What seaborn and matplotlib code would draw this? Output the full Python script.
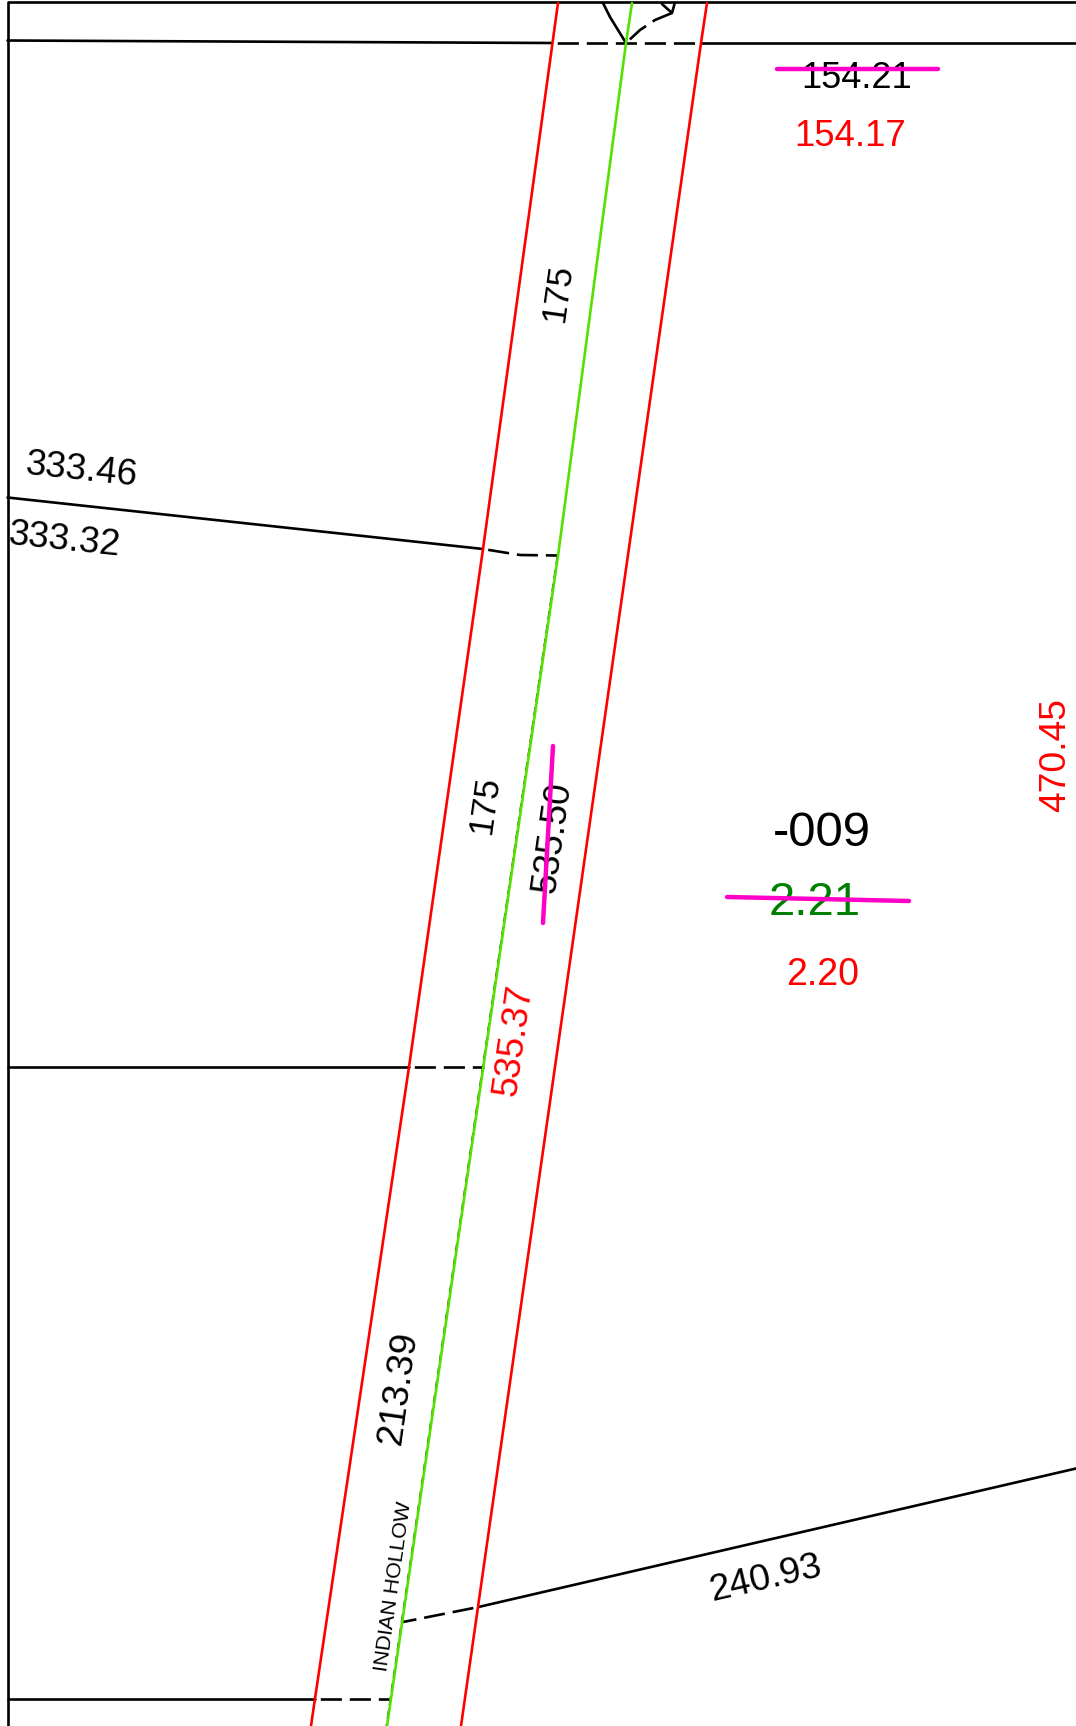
import matplotlib
matplotlib.use("Agg")
import matplotlib.pyplot as plt
import seaborn as sns

sns.set_theme(style="white")
plt.rcParams['font.family'] = ['Liberation Sans', 'DejaVu Sans']

W, H = 1076, 1726

# Solid black lot lines (x lists, y lists), in drawing units
frame_x = [1076, 7.5, 7.5]
frame_y = [2, 2, 1726]
lot_top_left_x = [7.5, 552]
lot_top_left_y = [40.5, 43]
lot_top_right_x = [701, 1076]
lot_top_right_y = [43, 43]
lot_mid_x = [7.5, 483]
lot_mid_y = [497.5, 549]
lot_lower_x = [7.5, 409]
lot_lower_y = [1067, 1067]
lot_bottom_x = [7.5, 315]
lot_bottom_y = [1698.5, 1698.5]
lot_right_x = [478.5, 1076]
lot_right_y = [1607, 1468.5]
curb_x = [603, 610, 618, 626]
curb_y = [3, 17, 30, 43]
tick_x = [662, 672, 674.5]
tick_y = [4, 13, 4]

# Dashed black ties, running from the right-of-way line to the centre line
dash_top_x = [552, 701]
dash_top_y = [43, 43]
dash_mid_x = [483, 520, 557]
dash_mid_y = [549, 555, 555.5]
dash_lower_x = [409, 484]
dash_lower_y = [1067, 1067]
dash_bottom_x = [315, 389]
dash_bottom_y = [1698.5, 1698.5]
dash_right_x = [478.5, 403]
dash_right_y = [1607, 1622]
dash_arc_x = [626, 640, 655, 672]
dash_arc_y = [43, 30, 20, 13]

# Coloured lines
red_left_x = [558, 483, 409, 315, 311]
red_left_y = [3, 549, 1067, 1698.5, 1726]
red_right_x = [707, 701, 461]
red_right_y = [3, 43, 1726]
green_x = [632, 626, 558, 387]
green_y = [3, 43, 556, 1726]
under_x = [557.2, 386.2]
under_y = [556, 1726]

# Strike-outs
strike_a_x = [777, 938]
strike_a_y = [69, 69]
strike_b_x = [553, 543]
strike_b_y = [746, 923]
strike_c_x = [727, 909]
strike_c_y = [897, 901]

# Labels
label_text = ["154.21", "154.17", "175", "333.46", "333.32", "175", "535.50", "535.37",
              "-009", "2.21", "2.20", "470.45", "213.39", "240.93", "INDIAN HOLLOW"]
label_x = [857, 850, 558, 81, 64, 485, 553, 514, 822, 815, 823, 1056, 399, 766, 393]
label_y = [78, 136, 293, 470, 540, 805, 837, 1040, 833, 903, 975, 755, 1388, 1579, 1586]
label_size = [26, 26.3, 25, 26.5, 26.5, 25, 26.3, 26.5, 35.4, 34, 27, 26.8, 26.8, 26.8, 15.4]
label_rot = [0, 0, 82, -6, -6, 82, 82, 82, 0, 0, 0, 90, 82, 13, 82]
label_col = ["black", "#ff0000", "black", "black", "black", "black", "black", "#ff0000",
             "black", "#008000", "#ff0000", "#ff0000", "black", "black", "black"]

fig = plt.figure(figsize=(W / 100, H / 100), dpi=100, facecolor="white")
ax = fig.add_axes([0, 0, 1, 1])


def line(x, y, color="black", lw=1.9, ls="-", z=2):
    sns.lineplot(x=x, y=y, sort=False, estimator=None, color=color, linewidth=lw,
                 linestyle=ls, ax=ax, zorder=z, legend=False)


for x, y in [(frame_x, frame_y), (lot_top_left_x, lot_top_left_y), (lot_top_right_x, lot_top_right_y),
             (lot_mid_x, lot_mid_y), (lot_lower_x, lot_lower_y), (lot_bottom_x, lot_bottom_y),
             (lot_right_x, lot_right_y), (curb_x, curb_y), (tick_x, tick_y)]:
    line(x, y)

dash = (9, (8, 3))
for x, y in [(dash_top_x, dash_top_y), (dash_mid_x, dash_mid_y), (dash_lower_x, dash_lower_y),
             (dash_bottom_x, dash_bottom_y), (dash_right_x, dash_right_y), (dash_arc_x, dash_arc_y)]:
    line(x, y, ls=dash)

line(under_x, under_y, color="#222222", lw=1.0, ls=(0, (6, 4)), z=2.5)
line(red_left_x, red_left_y, color="#ff0000", z=3)
line(red_right_x, red_right_y, color="#ff0000", z=3)
line(green_x, green_y, color="#55e000", z=3)

for t, x, y, s, r, c in zip(label_text, label_x, label_y, label_size, label_rot, label_col):
    ax.text(x, y, t, fontsize=s, rotation=r, color=c, ha="center", va="center",
            rotation_mode="anchor", zorder=4)

for x, y in [(strike_a_x, strike_a_y), (strike_b_x, strike_b_y), (strike_c_x, strike_c_y)]:
    line(x, y, color="#ff00c8", lw=3.2, z=5)

ax.set_xlim(0, W)
ax.set_ylim(H, 0)
ax.axis("off")
fig.savefig("out.png", dpi=100, facecolor="white")
